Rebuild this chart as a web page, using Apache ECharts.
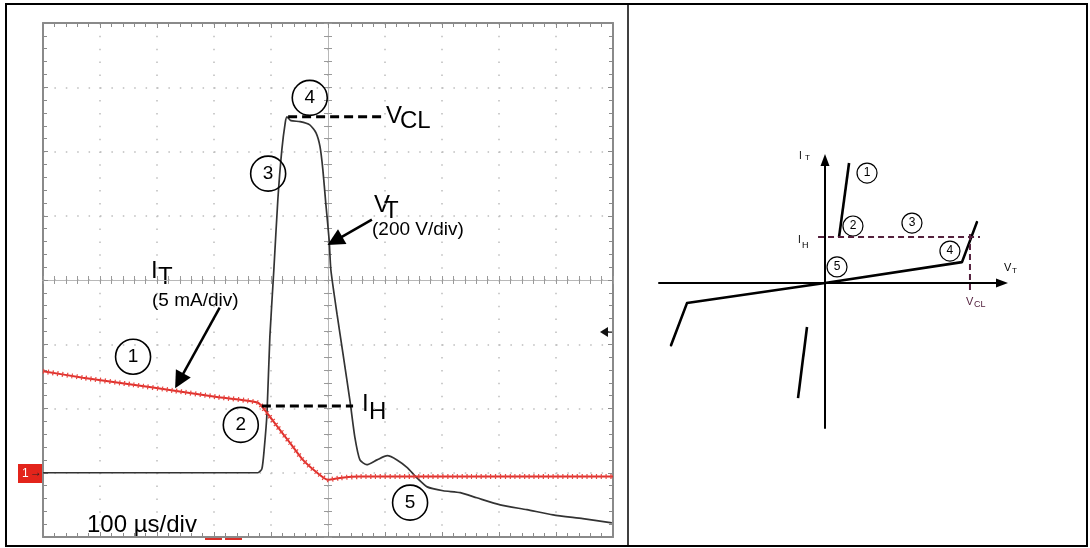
<!DOCTYPE html>
<html>
<head>
<meta charset="utf-8">
<title>Thyristor surge protector: scope trace and I-V curve</title>
<script src="https://cdn.jsdelivr.net/npm/echarts@6.0.0/dist/echarts.min.js"></script>
<style>
  html, body { margin: 0; padding: 0; background: #fff; }
  #chart { width: 1090px; height: 548px; }
</style>
</head>
<body>
<div id="chart"></div>
<script>
// scope trace V_T (200 V/div), time in us (100 us/div)
const vtTimeUs = [0, 377, 384, 388, 393, 398, 405, 412, 419, 425, 428, 435, 451, 468, 479, 486, 491, 496, 502, 505, 516, 526, 539, 547, 556, 568, 586, 604, 621, 639, 656, 674, 702, 732, 761, 802, 849, 895, 947, 998];
const vtVolts = [0, 0, 12, 72, 187, 423, 632, 850, 1005, 1090, 1108, 1096, 1093, 1083, 1058, 1015, 943, 841, 725, 632, 492, 374, 218, 112, 40, 25, 40, 53, 40, 16, -16, -44, -56, -62, -78, -100, -115, -131, -143, -156];

// scope trace I_T (5 mA/div)
const itTimeUs = [0, 70, 158, 228, 305, 377, 393, 411, 433, 456, 481, 500, 521, 556, 650, 750, 850, 1000];
const itMilliamps = [7.9, 7.4, 6.85, 6.4, 5.9, 5.45, 4.65, 3.6, 2.35, 1.0, 0, -0.55, -0.4, -0.3, -0.3, -0.3, -0.3, -0.3];

// reference levels
const vclVolts = 1108;
const vclTimeUs = [430, 596];
const ihMilliamps = 5.2;
const ihTimeUs = [384, 544];

// numbered stage markers on the scope trace
const stageLabels = ['1', '2', '3', '4', '5'];
const stageTimeUs = [158, 347, 395, 468, 644];
const stageVolts = [361, 149, 931, 1167, -93];

// pointer arrows [from, to] in (us, V)
const vtArrow = [[577, 788], [512, 722]];
const itArrow = [[310, 514], [239, 286]];

// schematic I-V curve (arbitrary units, V_CL = 100, I_H = 20)
const ivSnapV = [-106.2, -95.2, 0, 94.5, 104.8];
const ivSnapI = [-27, -8.7, 0, 9.1, 26.5];
const ivOnV = [9.7, 16.6];
const ivOnI = [20, 52.2];
const ivNegOnV = [-18.6, -12.4];
const ivNegOnI = [-50, -19.1];
const ivHoldV = [-4.8, 106.9];
const ivClampI = [-3, 23];
const ivStageV = [29, 19.3, 60, 86.2, 8.3];
const ivStageI = [47.8, 24.8, 26.1, 13.9, 7.0];

const zip = (xs, ys) => xs.map((x, i) => [x, ys[i]]);
const font = '"Liberation Sans", Arial, sans-serif';
const frameColor = '#8a8a8a';
const maroon = '#53203d';

function scopeAxis(opts) {
  return Object.assign({
    type: 'value', gridIndex: 0,
    axisLabel: { show: false },
    axisLine: { show: true, onZero: false, lineStyle: { color: frameColor, width: 2 } },
    axisTick: { show: true, inside: true, length: 5, lineStyle: { color: frameColor } },
    minorTick: { show: true, splitNumber: 5, length: 4, lineStyle: { color: frameColor } },
    splitLine: { show: false }
  }, opts);
}
function centerAxis(opts) {
  return scopeAxis(Object.assign({
    axisLine: { show: true, onZero: false, lineStyle: { color: '#b8b8b8', width: 1 } },
    axisTick: { show: true, inside: true, length: 4, lineStyle: { color: '#9a9a9a' } },
    minorTick: { show: true, splitNumber: 5, length: 4, lineStyle: { color: '#9a9a9a' } }
  }, opts));
}
function ivAxis(opts) {
  return Object.assign({
    type: 'value', gridIndex: 1,
    axisLabel: { show: false }, axisTick: { show: false }, splitLine: { show: false },
    axisLine: { show: true, onZero: true, symbol: ['none', 'triangle'], symbolSize: [9, 12],
      lineStyle: { color: '#000', width: 2 } }
  }, opts);
}
function txt(x, y, text, size, color) {
  return { type: 'text', x: x, y: y, style: { text: text, fill: color || '#000',
    font: size + 'px ' + font, verticalAlign: 'middle' } };
}

const chart = echarts.init(document.getElementById('chart'), null, { renderer: 'canvas' });
chart.setOption({
  animation: false,
  backgroundColor: '#fff',
  grid: [
    { left: 43, top: 23, width: 570, height: 514 },
    { left: 659, top: 160, width: 343, height: 268 }
  ],
  xAxis: [
    scopeAxis({ position: 'bottom', min: 0, max: 1000, interval: 100,
      splitLine: { show: true, lineStyle: { color: '#bdbdbd', width: 1.5, type: [1.5, 11.35] } } }),
    scopeAxis({ position: 'top', min: 0, max: 1000, interval: 100 }),
    centerAxis({ position: 'bottom', offset: -257, min: 0, max: 1000, interval: 100 }),
    centerAxis({ position: 'top', offset: -257, min: 0, max: 1000, interval: 100 }),
    ivAxis({ min: -114.5, max: 122.1 })
  ],
  yAxis: [
    scopeAxis({ position: 'left', min: -200, max: 1400, interval: 200,
      splitLine: { show: true, lineStyle: { color: '#bdbdbd', width: 1.5, type: [1.5, 9.9] } } }),
    scopeAxis({ position: 'right', min: -5, max: 35, interval: 5 }),
    centerAxis({ position: 'left', offset: -285, min: -200, max: 1400, interval: 200 }),
    centerAxis({ position: 'right', offset: -285, min: -200, max: 1400, interval: 200 }),
    ivAxis({ min: -63, max: 53.5 })
  ],
  series: [
    { name: 'V_T', type: 'line', xAxisIndex: 0, yAxisIndex: 0, data: zip(vtTimeUs, vtVolts),
      symbol: 'none', smooth: 0.2, lineStyle: { color: '#333', width: 1.7 }, z: 3 },
    { name: 'I_T', type: 'line', xAxisIndex: 0, yAxisIndex: 1, data: zip(itTimeUs, itMilliamps),
      symbol: 'none', smooth: 0.2, lineStyle: { color: '#e0302c', width: 2 }, z: 4 },
    { name: 'I_T ripple', type: 'line', xAxisIndex: 0, yAxisIndex: 1, data: zip(itTimeUs, itMilliamps),
      symbol: 'none', smooth: 0.2, lineStyle: { color: '#e64640', width: 5, type: [1.2, 3.6] }, z: 4 },
    { name: 'V_CL', type: 'line', xAxisIndex: 0, yAxisIndex: 0, symbol: 'none',
      data: vclTimeUs.map(t => [t, vclVolts]), lineStyle: { color: '#000', width: 3, type: [9, 5] }, z: 5 },
    { name: 'I_H', type: 'line', xAxisIndex: 0, yAxisIndex: 1, symbol: 'none',
      data: ihTimeUs.map(t => [t, ihMilliamps]), lineStyle: { color: '#000', width: 3, type: [9, 5] }, z: 5 },
    { name: 'stages', type: 'scatter', xAxisIndex: 0, yAxisIndex: 0, symbol: 'circle', symbolSize: 35,
      data: stageTimeUs.map((t, i) => [t, stageVolts[i], stageLabels[i]]),
      itemStyle: { color: 'rgba(255,255,255,0)', borderColor: '#000', borderWidth: 1.6, opacity: 1 },
      label: { show: true, position: 'inside', formatter: p => p.data[2], fontSize: 19, color: '#000', fontFamily: font },
      z: 6 },
    { name: 'pointers', type: 'lines', coordinateSystem: 'cartesian2d', xAxisIndex: 0, yAxisIndex: 0,
      data: [{ coords: vtArrow }, { coords: itArrow }],
      symbol: ['none', 'triangle'], symbolSize: 17,
      lineStyle: { color: '#000', width: 2.5, opacity: 1 }, z: 6 },

    // I-V schematic
    { type: 'line', xAxisIndex: 4, yAxisIndex: 4, data: zip(ivSnapV, ivSnapI), symbol: 'none',
      lineStyle: { color: '#000', width: 2.6, cap: 'round', join: 'round' } },
    { type: 'line', xAxisIndex: 4, yAxisIndex: 4, data: zip(ivOnV, ivOnI), symbol: 'none',
      lineStyle: { color: '#000', width: 2.6 } },
    { type: 'line', xAxisIndex: 4, yAxisIndex: 4, data: zip(ivNegOnV, ivNegOnI), symbol: 'none',
      lineStyle: { color: '#000', width: 2.6 } },
    { type: 'line', xAxisIndex: 4, yAxisIndex: 4, data: ivHoldV.map(v => [v, 20]), symbol: 'none',
      lineStyle: { color: maroon, width: 2, type: [6, 4] } },
    { type: 'line', xAxisIndex: 4, yAxisIndex: 4, data: ivClampI.map(i => [100, i]), symbol: 'none',
      lineStyle: { color: maroon, width: 2, type: [6, 4] } },
    { type: 'scatter', xAxisIndex: 4, yAxisIndex: 4, symbol: 'circle', symbolSize: 20,
      data: ivStageV.map((v, i) => [v, ivStageI[i], stageLabels[i]]),
      itemStyle: { color: 'rgba(255,255,255,0)', borderColor: '#000', borderWidth: 1.2, opacity: 1 },
      label: { show: true, position: 'inside', formatter: p => p.data[2], fontSize: 12, color: '#000', fontFamily: font } }
  ],
  graphic: [
    { type: 'rect', shape: { x: 6, y: 4, width: 1081, height: 542 }, style: { fill: 'none', stroke: '#000', lineWidth: 2 } },
    { type: 'line', shape: { x1: 628, y1: 4, x2: 628, y2: 546 }, style: { stroke: '#000', lineWidth: 1.5 } },
    // channel marker and trigger marker
    { type: 'rect', shape: { x: 18, y: 464, width: 25, height: 19 }, style: { fill: '#e3241b' } },
    txt(22, 474, '1', 12, '#fff'),
    txt(30, 473, '→', 12, '#222'),
    { type: 'rect', shape: { x: 205, y: 537, width: 17, height: 3 }, style: { fill: '#d9302a' } },
    { type: 'rect', shape: { x: 225, y: 537, width: 17, height: 3 }, style: { fill: '#d9302a' } },
    { type: 'polygon', shape: { points: [[600, 332], [608, 327], [608, 337]] }, style: { fill: '#111' } },
    { type: 'line', shape: { x1: 607, y1: 332, x2: 613, y2: 332 }, style: { stroke: '#111', lineWidth: 1.5 } },
    // scope annotations
    txt(386, 116, 'V', 24), txt(400, 121, 'CL', 24),
    txt(374, 205, 'V', 24), txt(384, 211, 'T', 24),
    txt(372, 230, '(200 V/div)', 19),
    txt(151, 271, 'I', 24), txt(158, 277, 'T', 24),
    txt(152, 301, '(5 mA/div)', 19),
    txt(362, 404, 'I', 24), txt(369, 412, 'H', 24),
    txt(87, 525, '100 µs/div', 24),
    // I-V labels
    txt(799, 156, 'I', 10), txt(805, 158, 'T', 8),
    txt(798, 240, 'I', 10), txt(802, 246, 'H', 9),
    txt(1004, 268, 'V', 11), txt(1012, 271, 'T', 8),
    txt(966, 302, 'V', 11, maroon), txt(974, 305, 'CL', 9, maroon)
  ]
});
</script>
</body>
</html>
